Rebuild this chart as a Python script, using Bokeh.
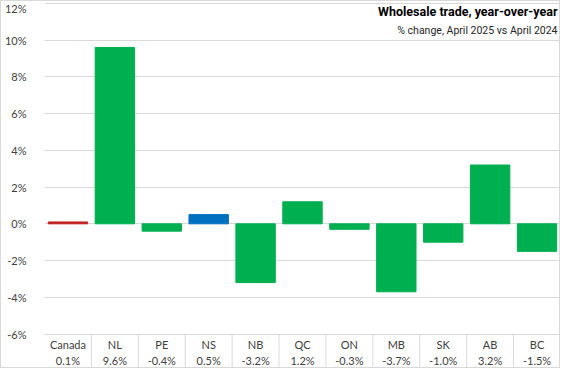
from bokeh.plotting import figure
from bokeh.models import (FixedTicker, PrintfTickFormatter, Label, ColumnDataSource, Range1d)
from bokeh.core.properties import value
from bokeh.embed import file_html
from bokeh.resources import INLINE

categories = ["Canada", "NL", "PE", "NS", "NB", "QC", "ON", "MB", "SK", "AB", "BC"]
changes = [0.1, 9.6, -0.4, 0.5, -3.2, 1.2, -0.3, -3.7, -1.0, 3.2, -1.5]
bar_colors = ["#C0201E", "#00B050", "#00B050", "#0070C0", "#00B050", "#00B050",
              "#00B050", "#00B050", "#00B050", "#00B050", "#00B050"]
y_ticks = [-6, -4, -2, 0, 2, 4, 6, 8, 10, 12]
title_text = "Wholesale trade, year-over-year"
subtitle_text = "% change, April 2025 vs April 2024"

W, H = 560, 368
GRID = "#d9d9d9"
FONT = "Lato"

x_centers = [i + 0.5 for i in range(len(categories))]
value_labels = [f"{v:.1f}%" for v in changes]
n = len(categories)

p = figure(width=W, height=H, output_backend="svg", toolbar_location=None,
           x_range=Range1d(0, n), y_range=Range1d(-7.93, 12.1),
           min_border_left=0, min_border_right=1, min_border_top=0, min_border_bottom=0)
p.styles = {"border": "1px solid #d9d9d9"}
p.outline_line_color = None
p.xaxis.visible = False
p.xgrid.visible = False
p.ygrid.ticker = FixedTicker(ticks=y_ticks)
p.ygrid.grid_line_color = GRID
p.yaxis.ticker = FixedTicker(ticks=y_ticks)
p.yaxis.formatter = PrintfTickFormatter(format="%d%%")
p.yaxis.axis_line_color = None
p.yaxis.major_tick_line_color = None
p.yaxis.minor_tick_line_color = None
p.yaxis.major_label_text_font = FONT
p.yaxis.major_label_text_font_size = "11px"
p.yaxis.major_label_text_color = "#404040"
p.yaxis.major_label_standoff = 12

src = ColumnDataSource(dict(x=x_centers, top=changes, color=bar_colors,
                            cat=categories, val=value_labels))
p.vbar(x="x", top="top", bottom=0, width=0.84, color="color", source=src)

# data table below the plot
sep_x = list(range(1, n + 1))
p.segment(x0=sep_x, x1=sep_x, y0=[-6] * len(sep_x), y1=[-7.88] * len(sep_x),
          line_color=GRID, line_width=1)
p.segment(x0=[0], x1=[n], y0=[-7.88], y1=[-7.88], line_color=GRID, line_width=1)
p.text(x="x", y=-6.58, text="cat", source=src, text_align="center", text_baseline="middle",
       text_font=value(FONT), text_font_size="11px", text_color="#404040")
p.text(x="x", y=-7.42, text="val", source=src, text_align="center", text_baseline="middle",
       text_font=value(FONT), text_font_size="11px", text_color="#404040")

p.add_layout(Label(x=n, y=11.55, x_offset=-3, text=title_text,
                   text_align="right", text_baseline="middle", text_font="Roboto",
                   text_font_style="bold", text_font_size="12.5px", text_color="#000000"))
p.add_layout(Label(x=n, y=10.5, x_offset=-3, text=subtitle_text,
                   text_align="right", text_baseline="middle", text_font="Roboto",
                   text_font_size="10.5px", text_color="#262626"))

open("out.html", "w").write(file_html(p, INLINE))
